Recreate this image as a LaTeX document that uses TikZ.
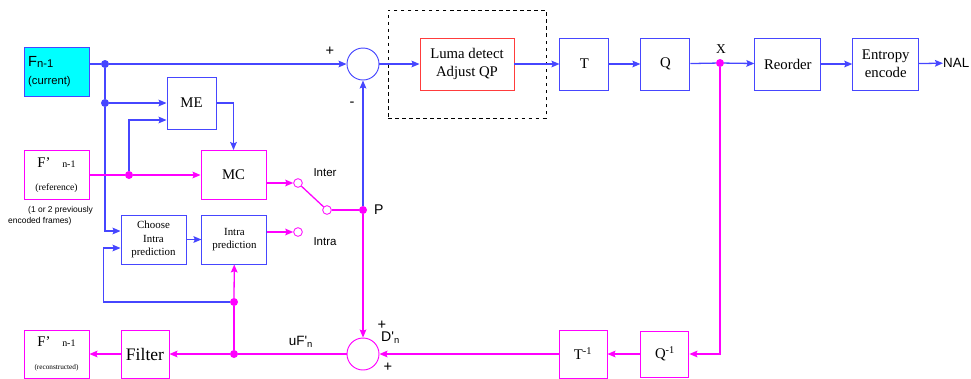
\documentclass[tikz,border=0pt]{standalone}
\usepackage{fontspec}
\setmainfont{Liberation Serif}
\newfontfamily\arialf{Liberation Sans}
\usepackage{tikz}
\usetikzlibrary{positioning,arrows.meta,calc}
\definecolor{lblue}{RGB}{70,70,255}
\definecolor{lmag}{RGB}{255,0,255}
\definecolor{lred}{RGB}{255,60,60}
\definecolor{lcyan}{RGB}{0,255,255}

\begin{document}
\begin{tikzpicture}[
  x=0.03cm, y=-0.03cm,
  box/.style={draw, line width=0.8pt, minimum width=1.95cm, minimum height=1.47cm, inner sep=1pt, align=center, font=\fontsize{12.6}{15.4}\selectfont},
  bbox/.style={box, draw=lblue},
  mbox/.style={box, draw=lmag},
  sbox/.style={font=\fontsize{9.3}{11.3}\selectfont},
  sum/.style={circle, draw, line width=0.8pt, minimum size=0.96cm, inner sep=0pt},
  dot/.style={circle, fill, inner sep=0pt, minimum size=0.24cm},
  pin/.style={circle, draw=lmag, fill=white, line width=0.7pt, inner sep=0pt, minimum size=0.26cm},
  lbl/.style={font=\arialf\fontsize{9.8}{11}\selectfont, inner sep=0pt},
  sgn/.style={font=\arialf\fontsize{12.5}{12.5}\selectfont, inner sep=0pt},
  barr/.style={-{Stealth[length=2.4mm, width=2mm, inset=0.4mm]}, line width=1.1pt, lblue},
  marr/.style={-{Stealth[length=2.4mm, width=2mm, inset=0.4mm]}, line width=1.1pt, lmag},
  bln/.style={line width=1.1pt, lblue},
  mln/.style={line width=1.1pt, lmag}]
\useasboundingbox (0,0) rectangle (971,378);
% forward path
\node[bbox, fill=lcyan, text width=1.7cm, align=left, font=\arialf\fontsize{9.6}{16}\selectfont] (cur) at (56.5,71.5)
  {{\fontsize{12.5}{12}\selectfont F}\raisebox{-0.3ex}{n-1}\\(current)};
\node[dot, lblue] (j1) at (105,64) {};
\node[sum, draw=lblue] (sum1) at (363,64) {};
\node[sgn] (pl1) at (330,51) {+};
\node[sgn] (mi1) at (352,104) {-};
\node[draw, dashed, line width=0.6pt, minimum width=4.74cm, minimum height=3.24cm] (adq) at (467,64) {};
\node[box, draw=lred, minimum width=2.82cm, minimum height=1.56cm] (luma) at (467,64) {Luma detect\\Adjust QP};
\node[bbox, minimum width=1.47cm, minimum height=1.56cm, right=1.35cm of luma] (tr) {T};
\node[bbox, minimum width=1.47cm, minimum height=1.56cm, right=0.93cm of tr] (qt) {Q};
\node[dot, lmag] (xdot) at (720,63) {};
\node[font=\fontsize{11.5}{12}\selectfont, inner sep=0pt] (xl) at (721,49) {X};
\node[bbox, minimum width=1.98cm, minimum height=1.56cm, right=1.92cm of qt] (reord) {Reorder};
\node[bbox, minimum width=1.98cm, minimum height=1.56cm, right=0.93cm of reord] (ent) {Entropy\\encode};
\node[lbl, font=\arialf\fontsize{11.4}{12}\selectfont, anchor=west] (nal) at (943,63) {NAL};
% motion estimation / compensation
\node[dot, lblue] (j2) at (105,103) {};
\node[bbox, minimum width=1.47cm, minimum height=1.56cm] (me) at (191.5,103) {ME};
\node[mbox] (mc) at (233.5,175) {MC};
\node[mbox, font=\fontsize{12.6}{20}\selectfont] (ref) at (56.5,175)
  {F'\hspace{0.35cm}{\fontsize{8.5}{8}\selectfont n-1}\\{\fontsize{8.2}{9}\selectfont (reference)}};
\node[dot, lmag] (j3) at (129,175) {};
\node[lbl, font=\arialf\fontsize{7.2}{9.2}\selectfont, align=left, anchor=north west] (prev) at (8,206)
  {\hspace*{0.6cm}(1 or 2 previously\\encoded frames)};
% intra
\node[bbox, sbox] (choose) at (153.5,239.5) {Choose\\Intra\\prediction};
\node[bbox, sbox, right=0.45cm of choose] (intra) {Intra\\prediction};
% switch
\node[pin] (pin1) at (298,183) {};
\node[pin] (pin2) at (298,232) {};
\node[pin] (pvt) at (327,210) {};
\node[lbl] (linter) at (325,173) {Inter};
\node[lbl] (lintra) at (325,242) {Intra};
\node[dot, lmag] (pdot) at (363,210) {};
\node[lbl, font=\arialf\fontsize{12}{12}\selectfont, anchor=west] (pl) at (374,210) {P};
% reconstruction path
\node[dot, lmag] (j4) at (234,302) {};
\node[dot, lmag] (j5) at (234,354) {};
\node[sum, draw=lmag] (sum2) at (363,354) {};
\node[sgn] (pl2) at (382,325) {+};
\node[sgn] (pl3) at (388,367) {+};
\node[lbl, font=\arialf\fontsize{12}{12}\selectfont, anchor=west] (dn) at (381,338) {D'\textsubscript{n}};
\node[lbl, font=\arialf\fontsize{11.5}{12}\selectfont] (uf) at (301,342) {uF'\textsubscript{n}};
\node[mbox, minimum width=1.44cm, minimum height=1.44cm] (tinv) at (583,354) {T\textsuperscript{-1}};
\node[mbox, minimum width=1.44cm, minimum height=1.38cm, right=0.99cm of tinv] (qinv) {Q\textsuperscript{-1}};
\node[mbox, minimum width=1.44cm, minimum height=1.44cm, font=\fontsize{15}{16}\selectfont] (filt) at (145,354) {Filter};
\node[mbox, minimum height=1.44cm, font=\fontsize{12.6}{20}\selectfont] (rec) at (56.5,354)
  {F'\hspace{0.35cm}{\fontsize{8.5}{8}\selectfont n-1}\\{\fontsize{6.2}{7}\selectfont (reconstructed)}};
% blue connectors
\draw[bln] (cur.east|-j1) -- (j1);
\draw[barr] (j1) -- (sum1);
\draw[bln] (j1) -- (j2);
\draw[barr] (j2) -- (me.west|-j2);
\draw[barr] (j2) |- ($(choose.west)+(0,-8.5)$);
\draw[barr] (j3) |- ($(me.west)+(0,17)$);
\draw[barr] (me.east) -| (mc.north);
\draw[barr] (choose) -- (intra);
\draw[barr] (j4) -| ($(choose.west)+(-17,8.5)$) -- ($(choose.west)+(0,8.5)$);
\draw[barr] (pdot) -- (sum1);
\draw[barr] (sum1) -- (luma);
\draw[barr] (luma) -- (tr);
\draw[barr] (tr) -- (qt);
\draw[bln] (qt) -- (xdot);
\draw[barr] (xdot) -- (reord);
\draw[barr] (reord) -- (ent);
\draw[barr] (ent) -- (nal);
% magenta connectors
\draw[mln] (ref.east) -- (j3);
\draw[marr] (j3) -- (mc);
\draw[marr] ($(mc.east)+(0,8)$) -- (pin1);
\draw[marr] ($(intra.east)+(0,-7.5)$) -- (pin2);
\draw[mln] (pvt) -- (pin1);
\draw[mln] (pvt) -- (pdot);
\draw[marr] (pdot) -- (sum2);
\draw[marr] (xdot) |- (qinv);
\draw[marr] (qinv) -- (tinv);
\draw[marr] (tinv) -- (sum2);
\draw[mln] (sum2) -- (j5);
\draw[marr] (j5) -- (filt);
\draw[marr] (filt) -- (rec);
\draw[mln] (j5) -- (j4);
\draw[marr] (j4) -- (intra);
\end{tikzpicture}
\end{document}
